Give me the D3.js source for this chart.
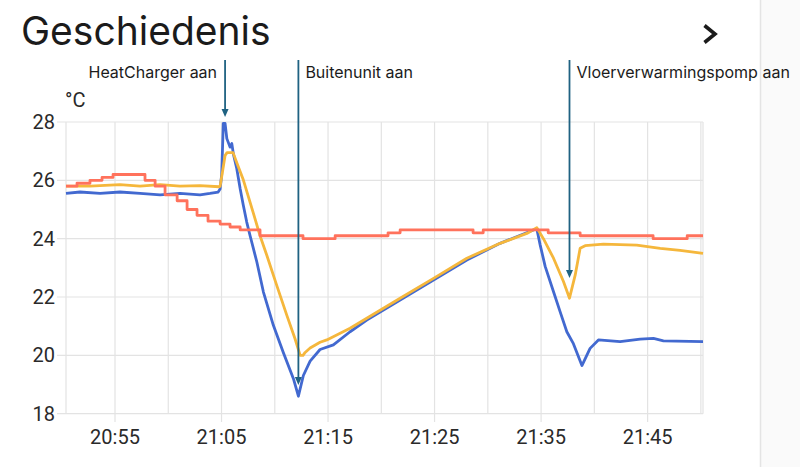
<!DOCTYPE html>
<html>
<head>
<meta charset="utf-8">
<script src="https://cdn.jsdelivr.net/npm/d3@7"></script>
<style>
  html, body { margin: 0; padding: 0; background: #fff; }
  svg { display: block; }
</style>
</head>
<body>
<svg id="chart" width="800" height="467"></svg>
<script>
// data (time, °C)
const redSeries = [
  ["20:50:24", 25.8], ["20:51:26", 25.9], ["20:52:39", 26.0], ["20:53:47", 26.1],
  ["20:54:49", 26.2], ["20:57:49", 26.0], ["20:58:46", 25.8], ["20:59:42", 25.5],
  ["21:00:50", 25.3], ["21:01:46", 25.0], ["21:02:42", 24.8], ["21:03:44", 24.6],
  ["21:04:52", 24.5], ["21:05:48", 24.4], ["21:06:45", 24.3], ["21:08:37", 24.1],
  ["21:12:39", 24.0], ["21:15:40", 24.1], ["21:20:38", 24.2], ["21:21:46", 24.3],
  ["21:28:37", 24.2], ["21:29:34", 24.3], ["21:35:40", 24.2], ["21:38:40", 24.1],
  ["21:45:31", 24.0], ["21:48:43", 24.1], ["21:50:12", 24.1]
]
const yellowSeries = [
  ["20:50:24", 25.8], ["20:52:39", 25.8], ["20:55:28", 25.85], ["20:57:21", 25.8],
  ["20:59:14", 25.85], ["21:01:06", 25.8], ["21:02:59", 25.82], ["21:04:46", 25.78],
  ["21:04:52", 25.8], ["21:05:07", 26.35], ["21:05:20", 26.85], ["21:05:31", 26.95],
  ["21:06:05", 26.95], ["21:06:26", 26.6], ["21:07:01", 26.05], ["21:07:58", 24.9],
  ["21:08:37", 24.1], ["21:09:15", 23.43], ["21:10:11", 22.4], ["21:11:08", 21.37],
  ["21:11:54", 20.57], ["21:12:23", 20.0], ["21:12:39", 20.0], ["21:12:51", 20.1],
  ["21:13:19", 20.25], ["21:14:15", 20.45], ["21:14:53", 20.53], ["21:17:04", 20.93],
  ["21:18:38", 21.27], ["21:21:46", 21.96], ["21:24:54", 22.64], ["21:28:02", 23.33],
  ["21:31:09", 23.84], ["21:33:40", 24.18], ["21:34:36", 24.38], ["21:35:13", 24.0],
  ["21:36:10", 23.33], ["21:37:06", 22.53], ["21:37:40", 21.96], ["21:38:12", 22.75],
  ["21:38:40", 23.67], ["21:39:08", 23.76], ["21:40:51", 23.81], ["21:43:59", 23.78],
  ["21:46:11", 23.67], ["21:48:03", 23.6], ["21:50:12", 23.5]
]
const blueSeries = [
  ["20:50:24", 25.55], ["20:51:43", 25.6], ["20:53:36", 25.55], ["20:55:28", 25.6],
  ["20:57:21", 25.55], ["20:59:14", 25.5], ["21:01:06", 25.55], ["21:02:59", 25.5],
  ["21:03:55", 25.55], ["21:04:41", 25.6], ["21:04:52", 25.7], ["21:05:01", 26.2],
  ["21:05:10", 27.95], ["21:05:20", 27.95], ["21:05:30", 27.43], ["21:05:48", 27.14],
  ["21:05:58", 27.26], ["21:06:07", 26.9], ["21:06:26", 26.4], ["21:06:45", 25.71],
  ["21:07:03", 25.14], ["21:07:22", 24.57], ["21:07:41", 24.1], ["21:08:19", 23.2],
  ["21:08:56", 22.17], ["21:09:52", 21.03], ["21:10:48", 20.1], ["21:11:45", 19.2],
  ["21:12:13", 18.6], ["21:12:41", 19.31], ["21:13:19", 19.8], ["21:14:15", 20.2],
  ["21:15:30", 20.36], ["21:17:04", 20.81], ["21:18:38", 21.21], ["21:21:46", 21.9],
  ["21:24:54", 22.58], ["21:28:02", 23.27], ["21:31:09", 23.84], ["21:34:17", 24.3],
  ["21:34:36", 24.33], ["21:34:55", 23.78], ["21:35:23", 23.05], ["21:36:10", 22.18],
  ["21:36:47", 21.5], ["21:37:25", 20.81], ["21:38:02", 20.4], ["21:38:50", 19.65],
  ["21:39:36", 20.24], ["21:40:23", 20.53], ["21:42:25", 20.47], ["21:44:18", 20.56],
  ["21:45:33", 20.58], ["21:46:29", 20.5], ["21:50:12", 20.47]
]
const yTicks = [18, 20, 22, 24, 26, 28]
const annotLabels = ["HeatCharger aan", "Buitenunit aan", "Vloerverwarmingspomp aan"]
const annotTimes = ["21:05:20", "21:12:13", "21:37:40"]
const annotTips = [28.17, 18.98, 22.65]

const parse = d3.timeParse("%H:%M:%S"),
      fmt = d3.timeFormat("%H:%M")

let svg = d3.select("#chart")

let x = d3.scaleTime()
    .domain([parse("20:50:24"), parse("21:50:12")])
    .range([66, 703])
let y = d3.scaleLinear().domain([18, 28]).range([413.7, 122])

// side panel on the right
svg.append("rect").attr("x", 761).attr("y", 0).attr("width", 39).attr("height", 467)
    .attr("fill", "#fafafa")
svg.append("line").attr("x1", 760.5).attr("x2", 760.5).attr("y1", 0).attr("y2", 467)
    .attr("stroke", "#e4e4e4").attr("stroke-width", 1.5)

// title + chevron
svg.append("text").attr("x", 21).attr("y", 45)
    .style("font-family", "Inter, 'Open Sans', sans-serif")
    .style("font-size", "39px")
    .attr("fill", "#1b1b1b")
    .text("Geschiedenis")
svg.append("path").attr("d", "M704.5,25.5 L715,34 L704.5,42.5")
    .attr("fill", "none").attr("stroke", "#1b1b1b").attr("stroke-width", 3.6)

// grid
let grid = svg.append("g").attr("stroke", "#e3e3e3").attr("stroke-width", 1.2)
let xTicks = x.ticks(d3.timeMinute.every(5))
let labelled = (t) => t.getMinutes() % 10 === 5

grid.selectAll("line.v")
    .data(xTicks)
    .join("line")
    .attr("class", "v")
    .attr("x1", d => x(d)).attr("x2", d => x(d))
    .attr("y1", y(28)).attr("y2", d => labelled(d) ? 422 : y(18))
grid.selectAll("line.e")
    .data(x.range())
    .join("line")
    .attr("class", "e")
    .attr("x1", d => d).attr("x2", d => d)
    .attr("y1", y(28)).attr("y2", y(18))
grid.selectAll("line.h")
    .data(yTicks)
    .join("line")
    .attr("class", "h")
    .attr("x1", 57).attr("x2", x.range()[1])
    .attr("y1", d => y(d)).attr("y2", d => y(d))

// axis labels
let tickFont = (sel) => sel.style("font-family", "Roboto, sans-serif")
    .style("font-size", "20px").attr("fill", "#2a2a2a")

svg.append("g").selectAll("text")
    .data(yTicks)
    .join("text")
    .attr("x", 55).attr("y", d => y(d) + 7)
    .attr("text-anchor", "end")
    .text(d => d)
    .call(tickFont)

svg.append("g").selectAll("text")
    .data(xTicks.filter(labelled))
    .join("text")
    .attr("x", d => x(d)).attr("y", 444)
    .attr("text-anchor", "middle")
    .text(d => fmt(d))
    .call(tickFont)

svg.append("text").attr("x", 65).attr("y", 107).text("°C").call(tickFont)

// series
let line = d3.line().x(d => x(parse(d[0]))).y(d => y(d[1]))
let series = [
    {data: blueSeries, color: "#4269d0", curve: d3.curveLinear},
    {data: yellowSeries, color: "#f5b73c", curve: d3.curveLinear},
    {data: redSeries, color: "#ff725c", curve: d3.curveStepAfter}
]
svg.append("g").selectAll("path")
    .data(series)
    .join("path")
    .attr("d", s => line.curve(s.curve)(s.data))
    .attr("fill", "none")
    .attr("stroke", s => s.color)
    .attr("stroke-width", 2.8)
    .attr("stroke-linejoin", "round")

// annotations with arrows
let ann = svg.append("g").selectAll("g")
    .data(annotLabels.map((l, i) => ({label: l, t: parse(annotTimes[i]), v: annotTips[i], i})))
    .join("g")
ann.append("line")
    .attr("x1", d => x(d.t)).attr("x2", d => x(d.t))
    .attr("y1", 60).attr("y2", d => y(d.v) - 6)
    .attr("stroke", "#1f6282").attr("stroke-width", 1.8)
ann.append("path")
    .attr("d", d => {
        let px = x(d.t), py = y(d.v)
        return `M${px - 3.5},${py - 8} L${px + 3.5},${py - 8} L${px},${py} Z`
    })
    .attr("fill", "#1f6282")
ann.append("text")
    .attr("x", d => d.i === 0 ? x(d.t) - 8 : x(d.t) + 7)
    .attr("y", 78)
    .attr("text-anchor", d => d.i === 0 ? "end" : "start")
    .style("font-family", "Inter, 'Open Sans', sans-serif")
    .style("font-size", "16px")
    .attr("fill", "#1b1b1b")
    .text(d => d.label)
</script>
</body>
</html>
